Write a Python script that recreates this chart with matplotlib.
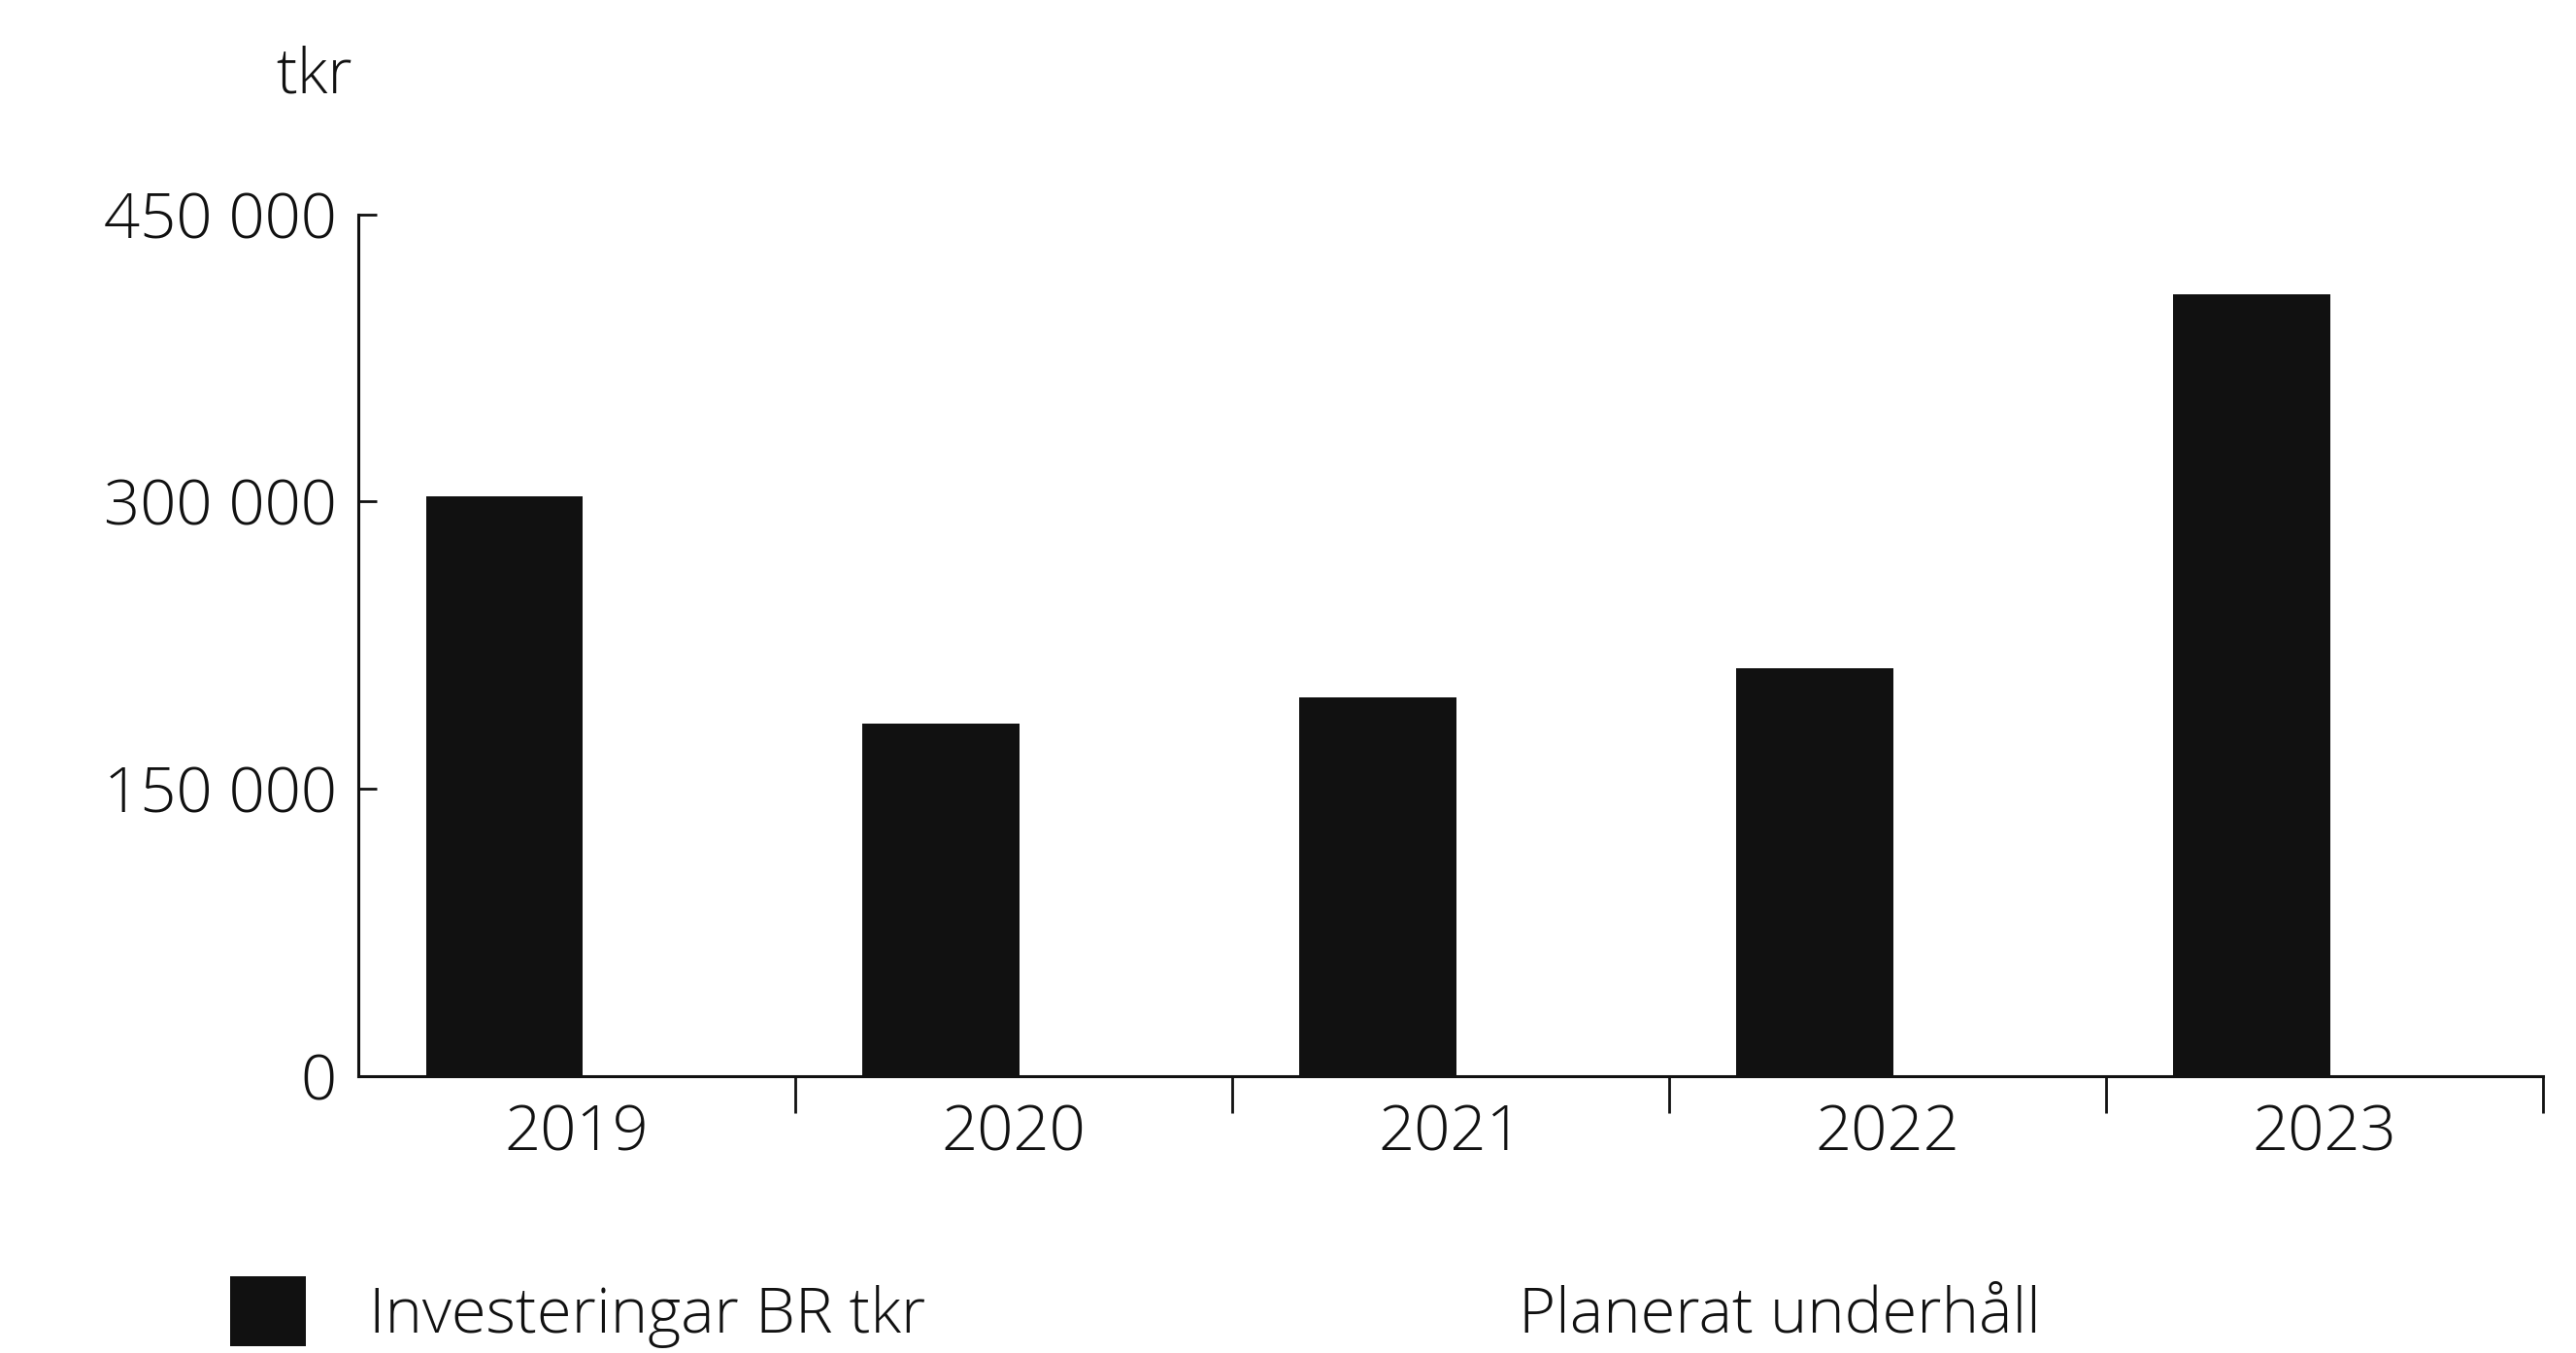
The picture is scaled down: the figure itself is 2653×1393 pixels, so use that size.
import matplotlib.pyplot as plt
from matplotlib.patches import Patch
from matplotlib.ticker import FixedLocator, FuncFormatter

# årsdata, tkr
years = ["2019", "2020", "2021", "2022", "2023"]
investeringar = [303000, 184000, 198000, 213000, 408000]
y_ticks = [0, 150000, 300000, 450000]

label_inv = "Investeringar BR tkr"
label_plan = "Planerat underhåll"

plt.rcParams["font.family"] = ["Open Sans", "DejaVu Sans"]
plt.rcParams["font.weight"] = "light"
ink = "#111111"
fs = 47

fig = plt.figure(figsize=(26.53, 13.93), dpi=100)
ax = fig.add_axes([0.139, 0.2046, 0.848, 0.637])

pos = list(range(len(years)))
bars = ax.bar([p - 0.165 for p in pos], investeringar, width=0.36,
              color=ink, label=label_inv)

ax.set_xlim(-0.5, len(years) - 0.5)
ax.set_ylim(0, 450000)

for s in ["top", "right"]:
    ax.spines[s].set_visible(False)
for s in ["left", "bottom"]:
    ax.spines[s].set_linewidth(2.2)
    ax.spines[s].set_color(ink)

# tusentalsavgränsare med mellanslag
ax.yaxis.set_major_locator(FixedLocator(y_ticks))
ax.yaxis.set_major_formatter(FuncFormatter(lambda v, _: f"{int(v):,}".replace(",", " ")))
ax.tick_params(axis="y", direction="in", length=14, width=2, pad=16,
               labelsize=fs, colors=ink)

# årsetiketter mitt i varje fack, streck på fackgränserna
ax.set_xticks(pos)
ax.set_xticklabels(years)
ax.tick_params(axis="x", which="major", length=0, pad=20, labelsize=fs, colors=ink)
ax.xaxis.set_minor_locator(FixedLocator([p + 0.5 for p in pos]))
ax.tick_params(axis="x", which="minor", direction="out", length=27, width=2, color=ink)

fig.text(0.107, 0.943, "tkr", fontsize=fs, color=ink, va="center", ha="left")

handles = [bars, Patch(facecolor="white", edgecolor="none")]
fig.legend(handles, [label_inv, label_plan], loc="center left",
           bbox_to_anchor=(0.067, 0.03), ncol=2, frameon=False,
           fontsize=fs, handlelength=1.2, handleheight=1.3,
           handletextpad=1.0, columnspacing=7.15, labelcolor=ink)

fig.savefig("out.png", dpi=100, facecolor="white")
